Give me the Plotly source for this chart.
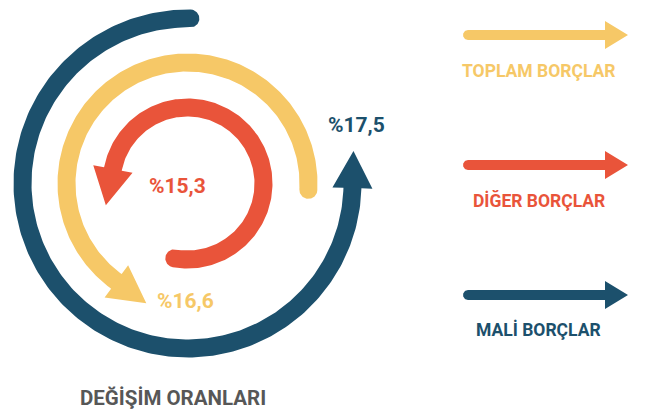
import numpy as np
import plotly.graph_objects as go

# ---- data ----
categories = ["TOPLAM BORÇLAR", "DİĞER BORÇLAR", "MALİ BORÇLAR"]
values = [16.6, 15.3, 17.5]
title_text = "DEĞİŞİM ORANLARI"

# ---- styles / geometry ----
colors = ["#F6C867", "#E9543A", "#1C506C"]
CX, CY = 187.5, 183.5
radii = [121, 76, 165]
start_deg = [-3, -100, 89]
end_deg = [234, 169, 358.4]
label_pos = [(185, 301), (177, 186), (356, 125)]
legend_y = [35, 165, 295]
legend_label_y = [70.5, 200.5, 329.5]

W, H = 647, 412
FONT = "Roboto"


def to_px(x, y):
    return CX + x, CY - y


def arc_arrow(r, t0, t1, w=18.0, head_w=40.0, head_l=37.0, n=240):
    t0r, t1r = np.radians(t0), np.radians(t1)
    ts = np.linspace(t0r, t1r, n)
    xs, ys = [], []
    # outer edge
    for t in ts:
        x, y = to_px((r + w / 2) * np.cos(t), (r + w / 2) * np.sin(t))
        xs.append(x); ys.append(y)
    # arrow head
    u = np.array([np.cos(t1r), np.sin(t1r)])
    v = np.array([-np.sin(t1r), np.cos(t1r)])
    base = r * u
    for p in (base + head_w / 2 * u, base + head_l * v, base - head_w / 2 * u):
        x, y = to_px(*p)
        xs.append(x); ys.append(y)
    # inner edge back
    for t in ts[::-1]:
        x, y = to_px((r - w / 2) * np.cos(t), (r - w / 2) * np.sin(t))
        xs.append(x); ys.append(y)
    # round cap at start
    u0 = np.array([np.cos(t0r), np.sin(t0r)])
    v0 = np.array([-np.sin(t0r), np.cos(t0r)])
    c0 = r * u0
    for ph in np.linspace(np.pi, 0, 40):
        p = c0 + (w / 2) * (np.cos(ph) * u0 - np.sin(ph) * v0)
        x, y = to_px(*p)
        xs.append(x); ys.append(y)
    xs.append(xs[0]); ys.append(ys[0])
    return xs, ys


def straight_arrow(x0, x1, y, w=10.0, head_w=28.0, head_l=23.0):
    xb = x1 - head_l
    xs = [x0, xb, xb, x1, xb, xb, x0]
    ys = [y - w / 2, y - w / 2, y - head_w / 2, y, y + head_w / 2, y + w / 2, y + w / 2]
    for ph in np.linspace(np.pi / 2, 3 * np.pi / 2, 30):
        xs.append(x0 + (w / 2) * np.cos(ph))
        ys.append(y + (w / 2) * np.sin(ph))
    return xs, ys


fig = go.Figure()
for i, cat in enumerate(categories):
    xs, ys = arc_arrow(radii[i], start_deg[i], end_deg[i])
    fig.add_trace(go.Scatter(x=xs, y=ys, mode="lines", fill="toself",
                             fillcolor=colors[i], line=dict(width=0, color=colors[i]),
                             hoverinfo="skip", showlegend=False))
    lx, ly = straight_arrow(468, 628, legend_y[i])
    fig.add_trace(go.Scatter(x=lx, y=ly, mode="lines", fill="toself",
                             fillcolor=colors[i], line=dict(width=0, color=colors[i]),
                             hoverinfo="skip", showlegend=False))
    label = "%" + f"{values[i]:.1f}".replace(".", ",")
    fig.add_annotation(x=label_pos[i][0], y=label_pos[i][1], text=label, showarrow=False,
                       xanchor="center", yanchor="middle",
                       font=dict(family=FONT, size=21, color=colors[i], weight="bold"))
    fig.add_annotation(x=538.5, y=legend_label_y[i], text=cat, showarrow=False,
                       xanchor="center", yanchor="middle",
                       font=dict(family=FONT, size=17.5, color=colors[i], weight="bold"))

fig.add_annotation(x=172.5, y=397.5, text=title_text, showarrow=False,
                   xanchor="center", yanchor="middle",
                   font=dict(family=FONT, size=20.5, color="#575757", weight="bold"))

fig.update_layout(
    width=W, height=H, margin=dict(l=0, r=0, t=0, b=0),
    paper_bgcolor="white", plot_bgcolor="white",
    xaxis=dict(range=[0, W], visible=False, fixedrange=True),
    yaxis=dict(range=[H, 0], visible=False, fixedrange=True),
)

fig.write_html("out.html", config={"displayModeBar": False},
               post_script="document.body.style.margin='0';")
